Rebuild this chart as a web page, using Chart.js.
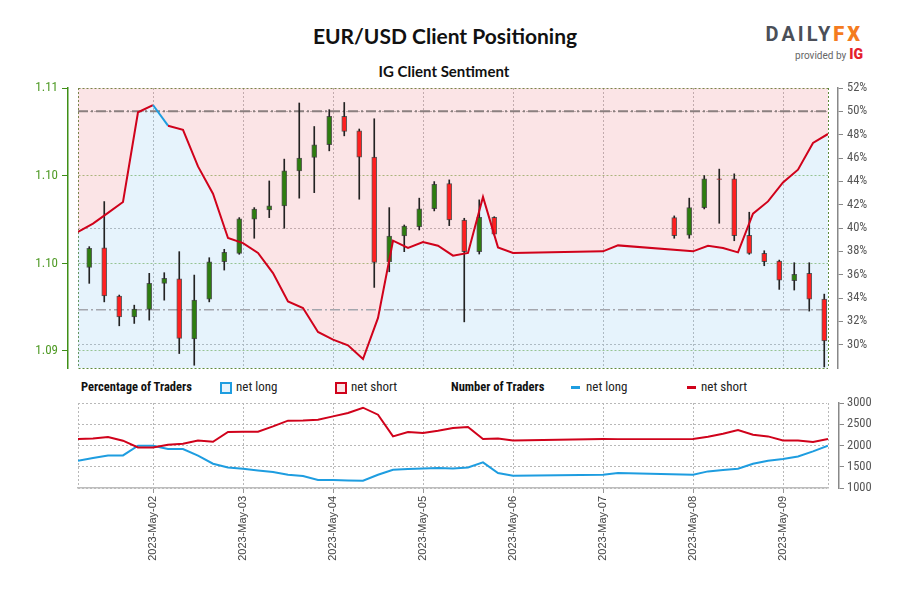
<!DOCTYPE html>
<html lang="en">
<head>
<meta charset="UTF-8">
<title>EUR/USD Client Positioning</title>
<script src="https://cdn.jsdelivr.net/npm/chart.js"></script>
<style>
  body { margin: 0; width: 900px; height: 600px; background: #fff; position: relative; overflow: hidden; }
  #title { position: absolute; left: 0; top: 23px; width: 890px; text-align: center; font: 700 21px Lato, 'Open Sans', sans-serif; color: #111; }
  #subtitle { position: absolute; left: 0; top: 62px; width: 888px; text-align: center; font: 700 15px Lato, 'Open Sans', sans-serif; color: #111; }
  #logo { position: absolute; right: 37px; top: 22px; text-align: right; font-family: Roboto, sans-serif; }
  #logo .brand { font-size: 20px; font-weight: 700; letter-spacing: 3px; color: #4b4f58; line-height: 24px; }
  #logo .brand b { color: #f47b20; }
  #logo .by { font-size: 10px; color: #666; line-height: 16px; }
  #logo .by b { color: #e4202c; font-size: 14px; font-weight: 900; margin-left: 3px; }
  canvas { position: absolute; left: 0; }
  #topChart { top: 0; }
  #bottomChart { top: 395px; }
  .lg { position: absolute; top: 380px; font: 13px 'Roboto Condensed', 'Liberation Sans Narrow', Roboto, sans-serif; color: #222; line-height: 14px; white-space: nowrap; }
  .lg.head { font-weight: 700; font-size: 12.5px; color: #111; }
  .box { position: absolute; top: 382px; width: 8px; height: 8px; border: 2px solid; }
  .dash { position: absolute; top: 386px; width: 9px; height: 3px; }
</style>
</head>
<body>
  <div id="title">EUR/USD Client Positioning</div>
  <div id="subtitle">IG Client Sentiment</div>
  <div id="logo">
    <div class="brand">DAILY<b>FX</b></div>
    <div class="by">provided by<b>IG</b></div>
  </div>

  <canvas id="topChart" width="900" height="372"></canvas>

  <span class="lg head" style="left:81px">Percentage of Traders</span>
  <span class="box" style="left:220px;border-color:#1e9de0;background:#e6f3fc"></span>
  <span class="lg" style="left:236px">net long</span>
  <span class="box" style="left:335px;border-color:#d0021b;background:#fbe4e6"></span>
  <span class="lg" style="left:351px">net short</span>
  <span class="lg head" style="left:451px">Number of Traders</span>
  <span class="dash" style="left:571px;background:#1e9de0"></span>
  <span class="lg" style="left:586px">net long</span>
  <span class="dash" style="left:687px;background:#d0021b"></span>
  <span class="lg" style="left:701px">net short</span>

  <canvas id="bottomChart" width="900" height="205"></canvas>

  <script>
    // x values are hours since 2023-05-01 00:00
    const xMin = 4;
    const xMax = 204;
    const dayTickHours = [24, 48, 72, 96, 120, 144, 168, 192];
    const dateLabels = ['2023-May-02', '2023-May-03', '2023-May-04', '2023-May-05',
                        '2023-May-06', '2023-May-07', '2023-May-08', '2023-May-09'];

    // 4h EUR/USD candles
    const candleHours = [7, 11, 15, 19, 23, 27, 31, 35, 39, 43, 47, 51, 55, 59, 63, 67, 71, 75, 79, 83,
                         87, 91, 95, 99, 103, 107, 111, 115,
                         163, 167, 171, 175, 179, 183, 187, 191, 195, 199, 203];
    const candleOpen = [1.09636, 1.09785, 1.09417, 1.09259, 1.09316, 1.09514, 1.09549, 1.09091, 1.09394, 1.09678,
                        1.09742, 1.10002, 1.10072, 1.10103, 1.10370, 1.10471, 1.10568, 1.10784, 1.10675, 1.10474,
                        1.09678, 1.09874, 1.09945, 1.10082, 1.10273, 1.09996, 1.09755, 1.10017,
                        1.10014, 1.09880, 1.10090, 1.10309, 1.10309, 1.09880, 1.09742, 1.09684, 1.09534, 1.09590, 1.09394];
    const candleHigh = [1.09793, 1.10136, 1.09425, 1.09348, 1.09590, 1.09595, 1.09755, 1.09577, 1.09709, 1.09773,
                        1.10014, 1.10090, 1.10293, 1.10459, 1.10886, 1.10707, 1.10835, 1.10890, 1.10688, 1.10766,
                        1.10090, 1.09958, 1.10162, 1.10288, 1.10301, 1.10009, 1.10149, 1.10021,
                        1.10027, 1.10162, 1.10334, 1.10383, 1.10347, 1.10055, 1.09762, 1.09691, 1.09671, 1.09671, 1.09432];
    const candleLow = [1.09514, 1.09373, 1.09191, 1.09209, 1.09234, 1.09386, 1.08980, 1.08891, 1.09373, 1.09615,
                       1.09735, 1.09857, 1.10014, 1.09933, 1.10162, 1.10204, 1.10522, 1.10636, 1.10154, 1.09483,
                       1.09602, 1.09755, 1.09920, 1.10065, 1.09953, 1.09221, 1.09737, 1.09882,
                       1.09857, 1.09857, 1.10080, 1.09971, 1.09838, 1.09735, 1.09648, 1.09468, 1.09463, 1.09303, 1.08878];
    const candleClose = [1.09780, 1.09419, 1.09259, 1.09318, 1.09514, 1.09552, 1.09095, 1.09386, 1.09678, 1.09750,
                         1.10004, 1.10078, 1.10103, 1.10370, 1.10466, 1.10568, 1.10784, 1.10669, 1.10474, 1.09674,
                         1.09874, 1.09950, 1.10080, 1.10268, 1.09996, 1.09755, 1.10017, 1.09889,
                         1.09876, 1.10090, 1.10309, 1.10305, 1.09876, 1.09742, 1.09678, 1.09539, 1.09582, 1.09394, 1.09076];

    const priceMin = 1.0887;
    const priceMax = 1.11;
    const priceTicks = [1.09, 1.096667, 1.103333, 1.11];

    // IG client sentiment, sampled every 4h
    const sentHours = [4, 8, 12, 16, 20, 24, 28, 32, 36, 40, 44, 48, 52, 56, 60, 64, 68, 72, 76, 80,
                       84, 88, 92, 96, 100, 104, 108, 112, 116, 120,
                       144, 148, 168, 172, 176, 180, 184, 188, 192, 196, 200, 204];
    const pctLong = [39.66, 40.37, 41.3, 42.23, 49.92, 50.54, 48.77, 48.42, 45.28, 42.94,
                     39.14, 38.71, 37.86, 36.14, 33.71, 33.14, 31.09, 30.43, 29.94, 28.77,
                     32.29, 38.91, 38.29, 38.80, 38.48, 37.63, 37.86, 42.66, 38.34, 37.86,
                     38.0, 38.51, 38.0, 38.48, 38.29, 37.91, 41.23, 42.28, 43.9, 45.0, 47.29, 48.06];
    const longCount = [1642, 1706, 1767, 1767, 1995, 1995, 1918, 1918, 1760, 1572,
                       1485, 1454, 1414, 1376, 1313, 1282, 1188, 1188, 1179, 1172,
                       1313, 1431, 1447, 1461, 1471, 1461, 1485, 1602, 1353, 1289,
                       1313, 1353, 1313, 1391, 1423, 1454, 1572, 1642, 1682, 1743, 1861, 1995];
    const shortCount = [2153, 2167, 2200, 2113, 1955, 1955, 2019, 2042, 2120, 2089,
                        2318, 2325, 2325, 2449, 2584, 2591, 2607, 2685, 2765, 2889,
                        2725, 2214, 2318, 2294, 2348, 2412, 2435, 2153, 2167, 2120,
                        2153, 2150, 2153, 2207, 2278, 2365, 2254, 2214, 2120, 2120, 2082, 2153];

    const pctMin = 28, pctMax = 52;
    const neutralLevel = 50;
    const lowerLevel = 33;

    const RED = '#d0021b';
    const BLUE = '#1e9de0';
    const GREEN_AXIS = '#3f8f17';
    const GREEN_FRAME = '#5d8a3c';
    const GREEN_GRID = '#9cc47c';
    const GRAY_GRID = '#b8b8b8';
    const condensed = "'Roboto Condensed', 'Liberation Sans Narrow', 'Arial Narrow', Roboto, sans-serif";

    const pts = (xs, ys) => xs.map((x, i) => ({ x: x, y: ys[i] }));
    const level = v => [{ x: xMin, y: v }, { x: xMax, y: v }];
    const isEdge = v => v === xMin || v === xMax;
    const edgeTicks = s => { s.ticks = [xMin, ...dayTickHours, xMax].map(v => ({ value: v })); };

    const bodies = candleHours.map((h, i) => ({ x: h, y: [candleOpen[i], candleClose[i]] }));
    const wicks = candleHours.map((h, i) => ({ x: h, y: [candleLow[i], candleHigh[i]] }));
    const bodyColors = candleHours.map((h, i) => candleClose[i] >= candleOpen[i] ? '#2e7d10' : '#ff2020');
    const sentPts = pts(sentHours, pctLong);

    new Chart(document.getElementById('topChart'), {
      type: 'bar',
      data: {
        datasets: [
          {
            type: 'line', data: sentPts, yAxisID: 'yPct', order: 0,
            borderWidth: 2, borderColor: RED, pointRadius: 0, fill: false,
            segment: { borderColor: ctx => ctx.p0.parsed.y > neutralLevel ? BLUE : RED }
          },
          {
            data: bodies, yAxisID: 'yPrice', order: 1, grouped: false, barThickness: 5,
            backgroundColor: bodyColors, borderColor: 'rgba(45,45,45,0.75)', borderWidth: 1, borderSkipped: false
          },
          {
            data: wicks, yAxisID: 'yPrice', order: 2, grouped: false, barThickness: 1,
            backgroundColor: '#222', borderWidth: 0
          },
          {
            type: 'line', data: level(neutralLevel), yAxisID: 'yPct', order: 3,
            borderColor: '#8a7f7f', borderWidth: 2, borderDash: [10, 3, 2, 3], pointRadius: 0, fill: false
          },
          {
            type: 'line', data: level(lowerLevel), yAxisID: 'yPct', order: 4,
            borderColor: '#a4a6ad', borderWidth: 1.5, borderDash: [10, 3, 2, 3], pointRadius: 0, fill: false
          },
          {
            type: 'line', data: sentPts, yAxisID: 'yPct', order: 5,
            borderColor: 'transparent', borderWidth: 1, pointRadius: 0,
            fill: 'start', backgroundColor: 'rgba(130,195,240,0.2)'
          },
          {
            type: 'line', data: sentPts, yAxisID: 'yPct', order: 6,
            borderColor: 'transparent', borderWidth: 1, pointRadius: 0,
            fill: 'end', backgroundColor: 'rgba(235,120,130,0.2)'
          }
        ]
      },
      options: {
        responsive: false,
        animation: false,
        events: [],
        layout: { padding: { top: 88, bottom: 4, left: 0, right: 0 } },
        plugins: { legend: { display: false }, tooltip: { enabled: false } },
        scales: {
          x: {
            type: 'linear', min: xMin, max: xMax, offset: false,
            afterBuildTicks: edgeTicks,
            ticks: { display: false },
            grid: { offset: false, drawTicks: false, color: ctx => isEdge(ctx.tick.value) ? GREEN_FRAME : GRAY_GRID },
            border: { display: false, dash: [2, 2] },
            afterFit: s => { s.height = 0; s.paddingLeft = 0; s.paddingRight = 0; }
          },
          yPrice: {
            type: 'linear', position: 'left', weight: 10, min: priceMin, max: priceMax,
            afterBuildTicks: s => { s.ticks = [priceMin, ...priceTicks].map(v => ({ value: v })); },
            ticks: {
              color: '#4f9a25', padding: 4, font: { family: condensed, size: 13 },
              callback: v => v === priceMin ? '' : v.toFixed(2)
            },
            grid: {
              color: ctx => ctx.tick.value === priceMin || ctx.tick.value === priceMax ? GREEN_FRAME : GREEN_GRID,
              tickColor: ctx => ctx.tick.value === priceMin ? 'transparent' : GREEN_AXIS,
              tickLength: 6, lineWidth: 1
            },
            border: { display: true, color: GREEN_AXIS, width: 1.5, dash: [2, 2] },
            afterFit: s => { s.width = 68; s.paddingTop = 0; s.paddingBottom = 0; }
          },
          padL: {
            type: 'linear', axis: 'y', position: 'left', weight: 0, display: true,
            ticks: { display: false }, grid: { display: false }, border: { display: false },
            afterFit: s => { s.width = 10; s.paddingTop = 0; s.paddingBottom = 0; }
          },
          padR: {
            type: 'linear', axis: 'y', position: 'right', weight: 0, display: true,
            ticks: { display: false }, grid: { display: false }, border: { display: false },
            afterFit: s => { s.width = 10; s.paddingTop = 0; s.paddingBottom = 0; }
          },
          yPct: {
            type: 'linear', position: 'right', weight: 10, min: pctMin, max: pctMax,
            afterBuildTicks: s => {
              const t = [];
              for (let v = 30; v <= pctMax; v += 2) t.push({ value: v });
              s.ticks = t;
            },
            ticks: { color: '#555', padding: 4, font: { family: condensed, size: 12.5 }, callback: v => v + '%' },
            grid: {
              color: ctx => ctx.tick.value % 10 === 0 ? GRAY_GRID : 'transparent',
              tickColor: '#888', tickLength: 5
            },
            border: { display: true, color: '#888', width: 1.5, dash: [2, 2] },
            afterFit: s => { s.width = 62; s.paddingTop = 0; s.paddingBottom = 0; }
          }
        }
      }
    });

    new Chart(document.getElementById('bottomChart'), {
      type: 'line',
      data: {
        datasets: [
          { data: pts(sentHours, shortCount), borderColor: RED, borderWidth: 2, pointRadius: 0, yAxisID: 'yCount' },
          { data: pts(sentHours, longCount), borderColor: BLUE, borderWidth: 2, pointRadius: 0, yAxisID: 'yCount' }
        ]
      },
      options: {
        responsive: false,
        animation: false,
        events: [],
        layout: { padding: { top: 8, bottom: 0, left: 78, right: 0 } },
        plugins: { legend: { display: false }, tooltip: { enabled: false } },
        scales: {
          x: {
            type: 'linear', min: xMin, max: xMax,
            afterBuildTicks: edgeTicks,
            ticks: {
              autoSkip: false, minRotation: 90, maxRotation: 90, padding: 3,
              color: '#444', font: { family: "'Liberation Sans', Arial, sans-serif", size: 11 },
              callback: v => { const i = dayTickHours.indexOf(v); return i < 0 ? '' : dateLabels[i]; }
            },
            grid: {
              color: GRAY_GRID,
              tickColor: ctx => isEdge(ctx.tick.value) ? 'transparent' : '#999',
              tickLength: 5
            },
            border: { display: true, color: '#bdbdbd', width: 1.5, dash: [2, 2] },
            afterFit: s => { s.height = 112; s.paddingLeft = 0; s.paddingRight = 0; }
          },
          padR: {
            type: 'linear', axis: 'y', position: 'right', weight: 0, display: true,
            ticks: { display: false }, grid: { display: false }, border: { display: false },
            afterFit: s => { s.width = 11; s.paddingTop = 0; s.paddingBottom = 0; }
          },
          yCount: {
            type: 'linear', position: 'right', weight: 10, min: 1000, max: 3000,
            ticks: {
              stepSize: 500, color: '#555', padding: 3, font: { family: condensed, size: 12.5 },
              callback: v => String(v)
            },
            grid: { color: GRAY_GRID, tickColor: '#888', tickLength: 5 },
            border: { display: true, color: '#888', width: 1.5, dash: [2, 2] },
            afterFit: s => { s.width = 61; s.paddingTop = 0; s.paddingBottom = 0; }
          }
        }
      }
    });
  </script>
</body>
</html>
